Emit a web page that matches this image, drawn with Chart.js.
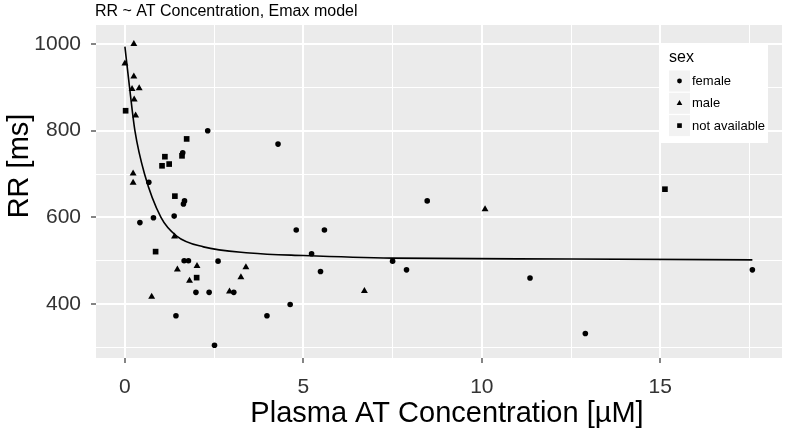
<!DOCTYPE html>
<html>
<head>
<meta charset="utf-8">
<script src="https://cdn.jsdelivr.net/npm/chart.js@4.4.1/dist/chart.umd.min.js"></script>
<style>
  html, body { margin: 0; padding: 0; background: #fff; }
  #wrap { width: 786px; height: 442px; }
</style>
</head>
<body>
<div id="wrap"><canvas id="myChart" width="786" height="442"></canvas></div>
<script>
// data: [concentration, RR]
const female = [
  [2.32, 800], [1.62, 749], [0.67, 681], [1.67, 638], [1.64, 631], [0.42, 588],
  [0.80, 599], [1.38, 603], [1.66, 500], [1.78, 500], [2.61, 499], [1.99, 427],
  [2.36, 427], [3.05, 427], [1.43, 373], [2.51, 305], [4.29, 769], [8.47, 638],
  [4.80, 571], [5.59, 571], [5.23, 516], [5.48, 475], [7.50, 499], [7.89, 479],
  [4.63, 399], [3.98, 373], [11.35, 460], [12.90, 332], [17.58, 479]
];
const male = [
  [0.25, 1000], [0.0, 955], [0.25, 925], [0.20, 896], [0.40, 898], [0.26, 872],
  [0.30, 835], [0.23, 701], [0.23, 680], [1.39, 556], [1.47, 480], [2.02, 488],
  [3.39, 485], [1.81, 454], [3.25, 462], [2.93, 429], [0.75, 417], [6.71, 430],
  [10.09, 619]
];
const notAvailable = [
  [0.02, 846], [1.73, 781], [1.12, 740], [1.60, 742], [1.04, 719], [1.24, 723],
  [1.40, 649], [0.86, 521], [2.01, 461], [15.13, 665]
];
// fitted Emax curve, read at a few places
const curveX = [0, 0.13, 0.28, 0.55, 1.01, 1.45, 2.2, 3.5, 5, 7.5, 12.5, 17.58];
const curveY = [994, 900, 800, 700, 600, 557, 532, 518, 512, 506, 504, 502];

const xGrid = [0, 2.5, 5, 7.5, 10, 12.5, 15, 17.5];
const yGrid = [300, 400, 500, 600, 700, 800, 900, 1000];
const xTickLabels = [0, 5, 10, 15];
const yTickLabels = [400, 600, 800, 1000];
const legendLabels = ['female', 'male', 'not available'];

const FONT = "'Liberation Sans', Arial, sans-serif";

function toPts(arr) {
  return arr.map(p => ({ x: p[0], y: p[1] }));
}

// panel background + titles + legend
const decor = {
  id: 'decor',
  beforeDraw(chart) {
    const { ctx, chartArea } = chart;
    ctx.save();
    ctx.fillStyle = '#EBEBEB';
    ctx.fillRect(chartArea.left, chartArea.top, chartArea.right - chartArea.left, chartArea.bottom - chartArea.top);
    ctx.restore();
  },
  afterDraw(chart) {
    const ctx = chart.ctx;
    ctx.save();
    ctx.fillStyle = '#000';
    ctx.textBaseline = 'middle';
    ctx.textAlign = 'left';
    ctx.font = '16px ' + FONT;
    ctx.fillText('RR ~ AT Concentration, Emax model', 95, 12);

    ctx.font = '29px ' + FONT;
    ctx.textAlign = 'center';
    ctx.fillText('Plasma AT Concentration [µM]', 447, 414);
    ctx.save();
    ctx.translate(20, 166);
    ctx.rotate(-Math.PI / 2);
    ctx.fillText('RR [ms]', 0, 0);
    ctx.restore();

    // legend
    ctx.fillStyle = '#fff';
    ctx.fillRect(661, 45, 107, 98);
    ctx.fillStyle = '#000';
    ctx.textAlign = 'left';
    ctx.font = '16px ' + FONT;
    ctx.fillText('sex', 669, 58);
    const shapes = ['circle', 'triangle', 'rect'];
    ctx.font = '13px ' + FONT;
    for (let i = 0; i < legendLabels.length; i++) {
      const top = 70.5 + i * 22.3;
      ctx.fillStyle = '#F2F2F2';
      ctx.fillRect(669, top, 21, 21);
      ctx.fillStyle = '#000';
      Chart.helpers.drawPoint(ctx, { pointStyle: shapes[i], radius: i === 0 ? 2.4 : 3.3, borderWidth: 0 }, 679.5, top + 10.5);
      ctx.fillStyle = '#000';
      ctx.fillText(legendLabels[i], 692, top + 11);
    }
    ctx.restore();
  }
};

const gridOpts = (majors) => ({
  color: '#FFFFFF',
  lineWidth: c => (c.tick && majors.includes(c.tick.value)) ? 2 : 1,
  tickColor: c => (c.tick && majors.includes(c.tick.value)) ? '#333333' : 'rgba(0,0,0,0)',
  tickLength: 5,
  tickWidth: 1.2
});

const config = {
  data: {
    datasets: [
      {
        type: 'line',
        label: 'Emax fit',
        data: curveX.map((x, i) => ({ x: x, y: curveY[i] })),
        borderColor: '#000',
        borderWidth: 1.6,
        pointRadius: 0,
        fill: false,
        cubicInterpolationMode: 'monotone'
      },
      {
        type: 'scatter', label: 'female', data: toPts(female),
        pointStyle: 'circle', pointRadius: 2.8, backgroundColor: '#000', borderWidth: 0
      },
      {
        type: 'scatter', label: 'male', data: toPts(male),
        pointStyle: 'triangle', pointRadius: 4, backgroundColor: '#000', borderWidth: 0
      },
      {
        type: 'scatter', label: 'not available', data: toPts(notAvailable),
        pointStyle: 'rect', pointRadius: 4, backgroundColor: '#000', borderWidth: 0
      }
    ]
  },
  options: {
    responsive: false,
    animation: false,
    layout: { padding: { top: 25, right: 4, left: 0, bottom: 0 } },
    plugins: { legend: { display: false }, title: { display: false }, tooltip: { enabled: false } },
    scales: {
      x: {
        type: 'linear',
        min: -0.81,
        max: 18.41,
        afterFit: s => { s.height = 84; },
        afterBuildTicks: s => { s.ticks = xGrid.map(v => ({ value: v })); },
        ticks: {
          autoSkip: false, maxRotation: 0,
          callback: v => xTickLabels.includes(v) ? String(v) : '',
          font: { family: FONT, size: 21 }, color: '#333333', padding: 12
        },
        grid: gridOpts(xTickLabels),
        border: { display: false }
      },
      y: {
        type: 'linear',
        min: 275.6,
        max: 1043.8,
        afterFit: s => { s.width = 96; },
        afterBuildTicks: s => { s.ticks = yGrid.map(v => ({ value: v })); },
        ticks: {
          autoSkip: false,
          callback: v => yTickLabels.includes(v) ? String(v) : '',
          font: { family: FONT, size: 21 }, color: '#333333', padding: 10
        },
        grid: gridOpts(yTickLabels),
        border: { display: false }
      }
    }
  },
  plugins: [decor]
};

const myChart = new Chart(document.getElementById('myChart'), config);
</script>
</body>
</html>
